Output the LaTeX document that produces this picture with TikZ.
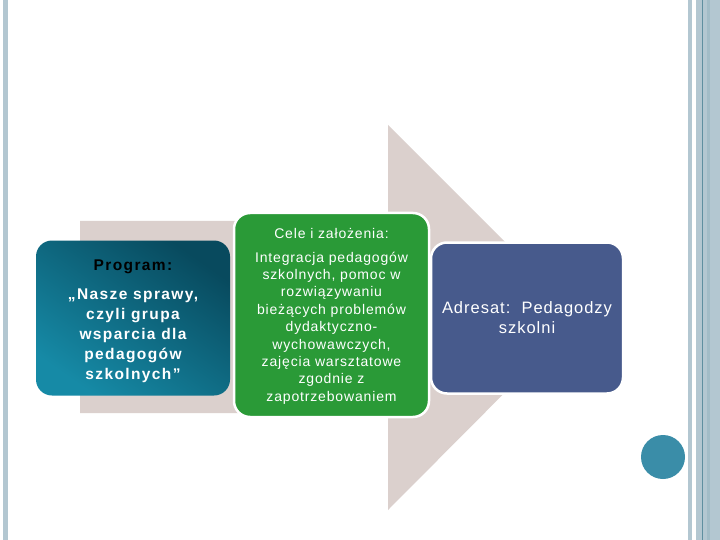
\documentclass[tikz,border=0pt]{standalone}
\usepackage{fontspec}
\setmainfont{Liberation Sans}
\usetikzlibrary{shapes}

\definecolor{barblue}{HTML}{B3C7D1}
\definecolor{bardark}{HTML}{5F8FA0}
\definecolor{arrowgray}{HTML}{DBD0CD}
\definecolor{tealdark}{HTML}{084A5E}
\definecolor{teallight}{HTML}{168AA6}
\definecolor{boxgreen}{HTML}{2A9A37}
\definecolor{boxblue}{HTML}{475A8C}
\definecolor{dotblue}{HTML}{3A8DA8}

\begin{document}
\begin{tikzpicture}[x=1pt,y=-1pt,
	box/.style={rounded corners=16pt, draw=white, line width=2.5pt, align=center, text=white, inner sep=0pt},
]
	\useasboundingbox (0,0) rectangle (720,540);
	\fill[white] (0,0) rectangle (720,540);

	% side bars
	\fill[barblue] (3,0) rectangle (8,540);
	\fill[barblue] (688,0) rectangle (692,540);
	\fill[barblue] (696,0) rectangle (720,540);
	\fill[bardark] (702,0) rectangle (703,540);
	\fill[barblue!80!bardark] (707,0) rectangle (710,540);

	% big arrow
	\fill[arrowgray] (80,221) -- (388,221) -- (388,125) -- (580,317) -- (388,510) -- (388,413) -- (80,413) -- cycle;

	\node[box, draw=none, top color=tealdark, bottom color=teallight, shading angle=-35,
		minimum width=194pt, minimum height=155pt,
		font={\fontsize{15.5}{20}\selectfont\bfseries\addfontfeature{LetterSpace=9}}] (program) at (133,318)
		{\rule{0pt}{18pt}\textcolor{black}{Program:}\\[9pt]
		„Nasze sprawy,\\ czyli grupa\\ wsparcia dla\\ pedagogów\\ szkolnych”};

	\node[box, fill=boxgreen, minimum width=195pt, minimum height=204pt,
		font={\fontsize{14}{17.4}\selectfont\addfontfeature{LetterSpace=6}}] (cele) at (331.5,315)
		{\rule{0pt}{13pt}Cele i założenia:\\[6pt]
		Integracja pedagogów\\ szkolnych, pomoc w\\ rozwiązywaniu\\ bieżących problemów\\
		dydaktyczno-\\ wychowawczych,\\ zajęcia warsztatowe\\ zgodnie z\\ zapotrzebowaniem};

	\node[box, fill=boxblue, minimum width=192pt, minimum height=151pt,
		font={\fontsize{16.5}{20}\selectfont\addfontfeature{LetterSpace=6}}] (adresat) at (527,318)
		{Adresat:\ \ Pedagodzy\\ szkolni};

	\fill[dotblue] (663,457) circle (22);
\end{tikzpicture}
\end{document}
